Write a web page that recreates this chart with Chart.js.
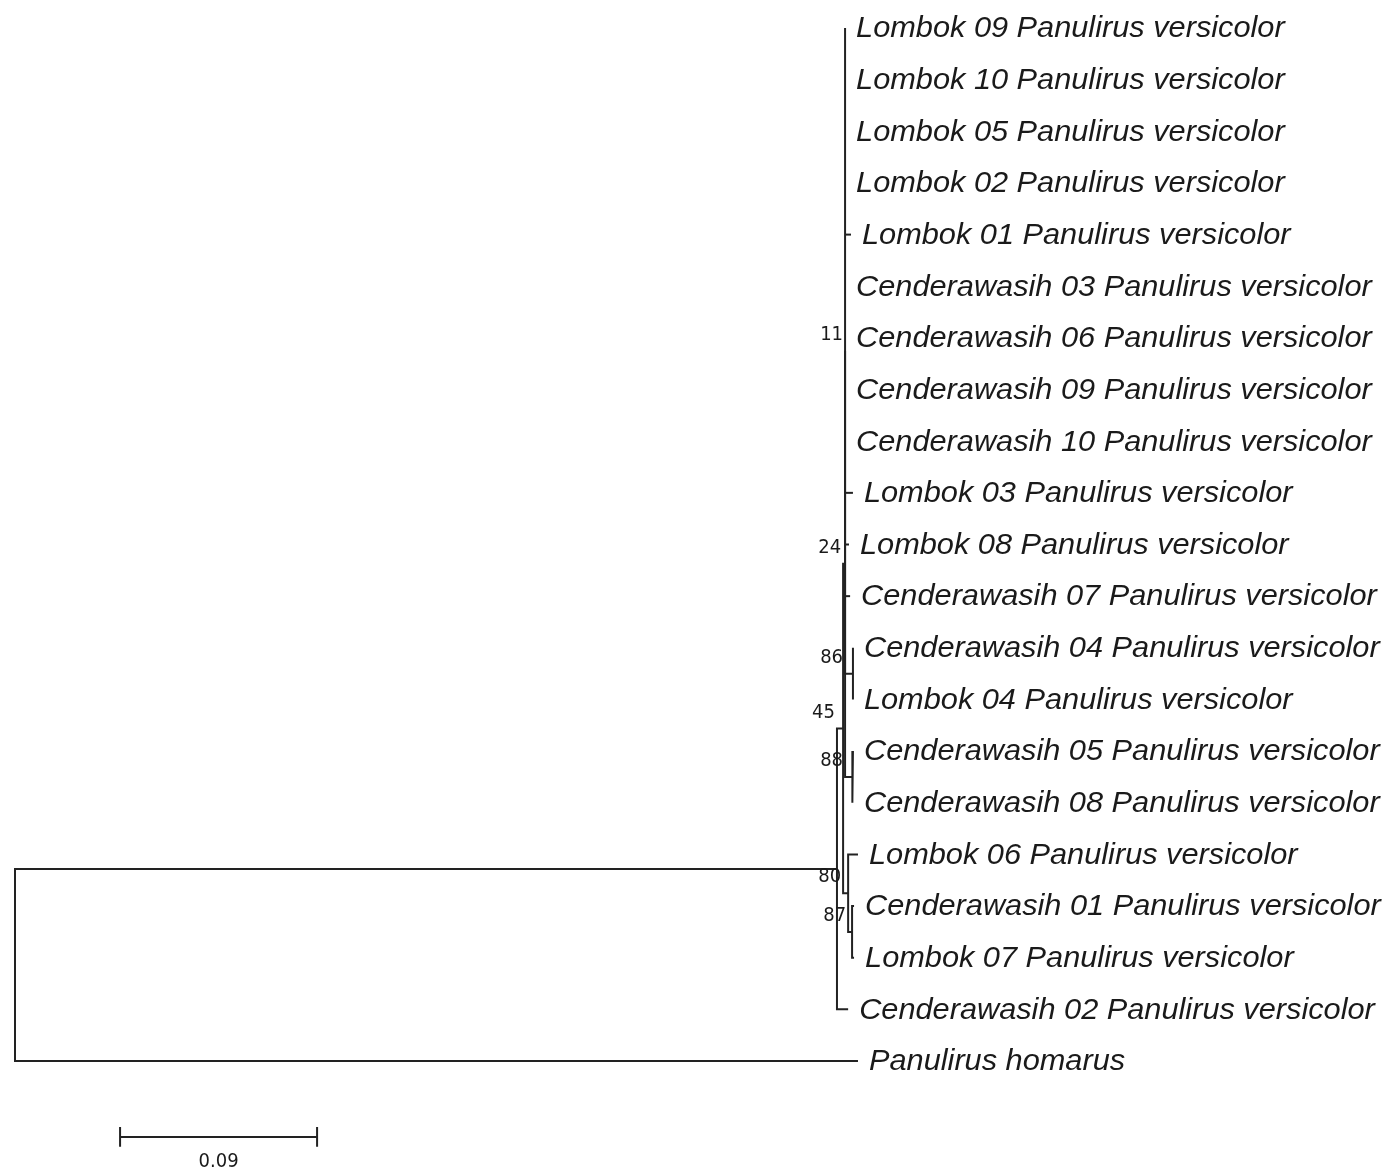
<!DOCTYPE html>
<html>
<head>
<meta charset="utf-8">
<script src="https://cdn.jsdelivr.net/npm/chart.js@4"></script>
<style>
  html, body { margin: 0; padding: 0; background: #fff; }
  #tree { display: block; }
</style>
</head>
<body>
<canvas id="tree" width="1383" height="1171"></canvas>
<script>
// tips, top to bottom
const taxa = [
    'Lombok 09 Panulirus versicolor',
    'Lombok 10 Panulirus versicolor',
    'Lombok 05 Panulirus versicolor',
    'Lombok 02 Panulirus versicolor',
    'Lombok 01 Panulirus versicolor',
    'Cenderawasih 03 Panulirus versicolor',
    'Cenderawasih 06 Panulirus versicolor',
    'Cenderawasih 09 Panulirus versicolor',
    'Cenderawasih 10 Panulirus versicolor',
    'Lombok 03 Panulirus versicolor',
    'Lombok 08 Panulirus versicolor',
    'Cenderawasih 07 Panulirus versicolor',
    'Cenderawasih 04 Panulirus versicolor',
    'Lombok 04 Panulirus versicolor',
    'Cenderawasih 05 Panulirus versicolor',
    'Cenderawasih 08 Panulirus versicolor',
    'Lombok 06 Panulirus versicolor',
    'Cenderawasih 01 Panulirus versicolor',
    'Lombok 07 Panulirus versicolor',
    'Cenderawasih 02 Panulirus versicolor',
    'Panulirus homarus'
];
// distance from root of each tip
const tipDepth = [
    0.3792, 0.3792, 0.3792, 0.3792, 0.3819, 0.3792, 0.3792, 0.3792, 0.3792,
    0.3828, 0.3810, 0.3815, 0.3828, 0.3828, 0.3828, 0.3828,
    0.3851, 0.3833, 0.3833, 0.3806, 0.3851
];

// internal nodes (index 21 onward), children refer to tip or node indices
const nodeNames    = ['n11', 'n86', 'n24', 'n88', 'n87', 'n80', 'n45', 'ingroup', 'root'];
const nodeDepth    = [0.3792, 0.3828, 0.3792, 0.3824, 0.3824, 0.3806, 0.3783, 0.3755, 0];
const nodeSupport  = [11, 86, 24, 88, 87, 80, 45, null, null];
const nodeChildren = [
    [0, 1, 2, 3, 4, 5, 6, 7, 8, 9, 10, 11, 22],
    [12, 13],
    [21, 24],
    [14, 15],
    [17, 18],
    [16, 25],
    [23, 26],
    [27, 19],
    [28, 20]
];

const scaleBarValue = 0.09;
const scaleBarStart = 0.048;

// layout
const rowTop = 28, rowStep = 51.65, rootPx = 15, pxPerUnit = 2189;
const W = 1383, H = 1171;

const nTips = taxa.length;
const depth = tipDepth.concat(nodeDepth);
const row = taxa.map((t, i) => i);
const parentOf = {};
nodeChildren.forEach((ch, k) => ch.forEach(c => parentOf[c] = nTips + k));

function rowOf(id) {
    if (id < nTips) return row[id];
    const ch = nodeChildren[id - nTips];
    return (rowOf(ch[0]) + rowOf(ch[ch.length - 1])) / 2;
}

const lineStyle = {
    showLine: true,
    borderColor: '#222',
    borderWidth: 2,
    pointRadius: 0,
    fill: false,
    tension: 0
};

const datasets = [];
nodeChildren.forEach((ch, k) => {
    const id = nTips + k;
    const first = ch[0], last = ch[ch.length - 1];
    datasets.push(Object.assign({
        data: [
            { x: depth[first], y: rowOf(first) },
            { x: depth[id], y: rowOf(first) },
            { x: depth[id], y: rowOf(last) },
            { x: depth[last], y: rowOf(last) }
        ]
    }, lineStyle));
    ch.slice(1, -1).forEach(c => {
        if (depth[c] > depth[id]) {
            datasets.push(Object.assign({
                data: [{ x: depth[id], y: rowOf(c) }, { x: depth[c], y: rowOf(c) }]
            }, lineStyle));
        }
    });
});

// scale bar
const sbRow = 21.47, sbTick = 0.19;
datasets.push(Object.assign({
    data: [{ x: scaleBarStart, y: sbRow }, { x: scaleBarStart + scaleBarValue, y: sbRow }]
}, lineStyle));
[scaleBarStart, scaleBarStart + scaleBarValue].forEach(x => {
    datasets.push(Object.assign({
        data: [{ x: x, y: sbRow - sbTick }, { x: x, y: sbRow + sbTick }]
    }, lineStyle));
});

const labelPlugin = {
    id: 'treeLabels',
    afterDatasetsDraw(chart) {
        const ctx = chart.ctx, xs = chart.scales.x, ys = chart.scales.y;
        ctx.save();
        ctx.fillStyle = '#1a1a1a';
        ctx.textBaseline = 'middle';

        // tip names, slightly wide like the original
        ctx.font = 'italic 30px "Liberation Sans", Arial, sans-serif';
        ctx.textAlign = 'left';
        taxa.forEach((t, i) => {
            const px = xs.getPixelForValue(depth[i]) + 11;
            const py = ys.getPixelForValue(row[i]) + 1;
            ctx.save();
            ctx.translate(px, py);
            ctx.scale(1.024, 1);
            ctx.fillText(t, 0, 0);
            ctx.restore();
        });

        ctx.font = '20px "DejaVu Sans Condensed", "Liberation Sans Narrow", sans-serif';
        ctx.textAlign = 'right';
        nodeSupport.forEach((s, k) => {
            if (s === null) return;
            const id = nTips + k;
            const px = xs.getPixelForValue(depth[parentOf[id]]) - 2;
            const py = ys.getPixelForValue(rowOf(id)) - 16;
            ctx.fillText(String(s), px, py);
        });

        ctx.textAlign = 'center';
        ctx.fillText(String(scaleBarValue), xs.getPixelForValue(scaleBarStart + scaleBarValue / 2),
            ys.getPixelForValue(sbRow) + 25);
        ctx.restore();
    }
};

new Chart(document.getElementById('tree').getContext('2d'), {
    type: 'scatter',
    data: { datasets: datasets },
    options: {
        responsive: false,
        animation: false,
        devicePixelRatio: 1,
        layout: { padding: 0 },
        plugins: { legend: { display: false }, tooltip: { enabled: false } },
        scales: {
            x: { type: 'linear', display: false, min: -rootPx / pxPerUnit, max: (W - rootPx) / pxPerUnit },
            y: { type: 'linear', display: false, reverse: true, min: -rowTop / rowStep, max: (H - rowTop) / rowStep }
        }
    },
    plugins: [labelPlugin]
});
</script>
</body>
</html>
